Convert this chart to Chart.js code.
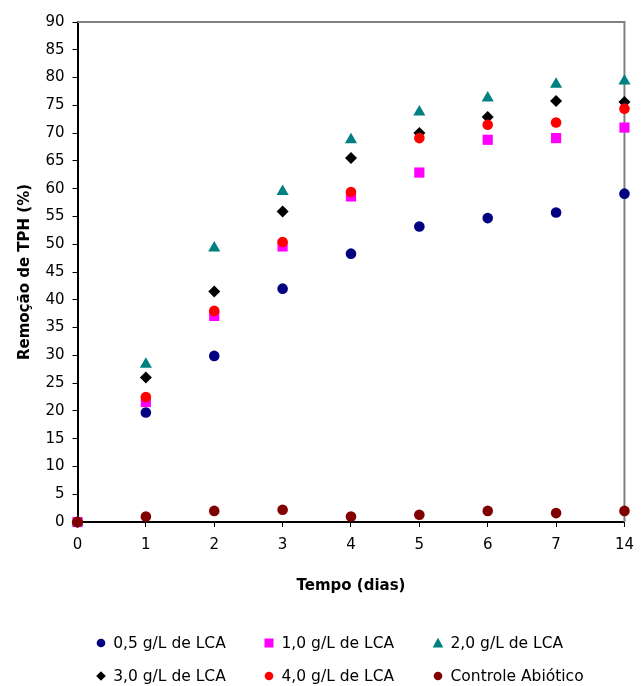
<!DOCTYPE html>
<html>
<head>
<meta charset="utf-8">
<script src="https://cdn.jsdelivr.net/npm/chart.js@4"></script>
<style>
  html, body { margin: 0; padding: 0; background: #ffffff; }
  #wrap { position: relative; width: 643px; height: 686px; }
  #legend { position: absolute; left: 0; top: 0; width: 643px; height: 686px; pointer-events: none; }
  .item { position: absolute; height: 20px; line-height: 20px; font-family: "DejaVu Sans", sans-serif; font-size: 15.5px; color: #000; white-space: nowrap; }
  .item svg { position: absolute; top: 0; }
  .item span { position: absolute; top: 0; }
</style>
</head>
<body>
<div id="wrap">
  <canvas id="c" width="643" height="686"></canvas>
  <div id="legend"></div>
</div>
<script>
// Categories (days)
const days = ['0', '1', '2', '3', '4', '5', '6', '7', '14'];

// Series values (% TPH removal)
const lca05 = [0, 19.7, 29.9, 42.0, 48.3, 53.2, 54.7, 55.7, 59.1];
const lca10 = [0, 21.6, 37.1, 49.6, 58.6, 62.9, 68.8, 69.1, 71.0];
const lca20 = [0, 28.4, 49.3, 59.5, 68.8, 73.8, 76.3, 78.8, 79.4];
const lca30 = [0, 26.0, 41.5, 55.9, 65.5, 70.0, 72.9, 75.8, 75.6];
const lca40 = [0, 22.5, 38.0, 50.4, 59.4, 69.1, 71.5, 71.9, 74.4];
const controle = [0, 1.0, 2.0, 2.2, 1.0, 1.3, 2.0, 1.6, 2.0];

const seriesNames = ['0,5 g/L de LCA', '1,0 g/L de LCA', '2,0 g/L de LCA', '3,0 g/L de LCA', '4,0 g/L de LCA', 'Controle Abiótico'];
const seriesData = [lca05, lca10, lca20, lca30, lca40, controle];
const seriesColors = ['#000080', '#FF00FF', '#008080', '#000000', '#FF0000', '#800000'];
const seriesStyles = ['circle', 'rect', 'triangle', 'rectRot', 'circle', 'circle'];
const seriesRadius = [5.3, 7.2, 7, 6, 5.3, 5.3];

const yTicksMin = 0, yTicksMax = 90, yStep = 5;

const FONT = '"DejaVu Sans", sans-serif';

const datasets = seriesNames.map((name, i) => ({
  label: name,
  data: seriesData[i],
  showLine: false,
  pointStyle: seriesStyles[i],
  pointRadius: seriesRadius[i],
  pointHoverRadius: seriesRadius[i],
  pointBackgroundColor: seriesColors[i],
  pointBorderColor: seriesColors[i],
  pointBorderWidth: 0,
  backgroundColor: seriesColors[i],
  borderColor: seriesColors[i],
  clip: false,
  order: seriesNames.length - i
}));

const frame = {
  id: 'frame',
  beforeDatasetsDraw(chart) {
    const { ctx, chartArea: a } = chart;
    ctx.save();
    ctx.strokeStyle = '#808080';
    ctx.lineWidth = 2;
    ctx.beginPath();
    ctx.moveTo(a.left, a.top);
    ctx.lineTo(a.right, a.top);
    ctx.lineTo(a.right, a.bottom);
    ctx.stroke();
    ctx.restore();
  }
};

new Chart(document.getElementById('c'), {
  type: 'line',
  data: { labels: days, datasets },
  plugins: [frame],
  options: {
    responsive: false,
    animation: false,
    layout: { padding: { left: 0, top: 22, right: 10, bottom: 88 } },
    plugins: { legend: { display: false }, tooltip: { enabled: false } },
    scales: {
      x: {
        type: 'category',
        offset: false,
        grid: { drawOnChartArea: false, drawTicks: true, tickLength: 5, tickColor: '#000', tickWidth: 1 },
        border: { display: true, color: '#000', width: 2 },
        ticks: { color: '#000', font: { family: FONT, size: 15 }, padding: 9, maxRotation: 0, autoSkip: false },
        title: { display: true, text: 'Tempo (dias)', color: '#000', font: { family: FONT, size: 15, weight: 'bold' }, padding: { top: 0, bottom: 3 } },
        afterFit(s) { s.height = 76; }
      },
      y: {
        min: yTicksMin, max: yTicksMax,
        grid: { drawOnChartArea: false, drawTicks: true, tickLength: 5, tickColor: '#000', tickWidth: 1 },
        border: { display: true, color: '#000', width: 2 },
        ticks: { stepSize: yStep, color: '#000', font: { family: FONT, size: 15 }, padding: 8 },
        title: { display: true, text: 'Remoção de TPH (%)', color: '#000', font: { family: FONT, size: 15, weight: 'bold' }, padding: { top: 16, bottom: 0 } },
        afterFit(s) { s.width = 77.5; }
      }
    }
  }
});

// HTML legend (2 rows x 3 columns)
const legendEl = document.getElementById('legend');
const colX = [100.7, 269, 438];
const rowY = [643, 676];
function markerSvg(style, color) {
  const s = 12;
  let shape = '';
  if (style === 'circle') shape = `<circle cx="6" cy="6" r="4.3" fill="${color}"/>`;
  else if (style === 'rect') shape = `<rect x="1.5" y="1.5" width="9" height="9" fill="${color}"/>`;
  else if (style === 'triangle') shape = `<polygon points="6,0.8 11.3,10.5 0.7,10.5" fill="${color}"/>`;
  else if (style === 'rectRot') shape = `<polygon points="6,1.2 10.8,6 6,10.8 1.2,6" fill="${color}"/>`;
  return `<svg width="${s}" height="${s}" viewBox="0 0 12 12" style="left:-6px;top:4px">${shape}</svg>`;
}
seriesNames.forEach((name, i) => {
  const r = Math.floor(i / 3), c = i % 3;
  const d = document.createElement('div');
  d.className = 'item';
  d.style.left = colX[c] + 'px';
  d.style.top = (rowY[r] - 10) + 'px';
  d.innerHTML = markerSvg(seriesStyles[i], seriesColors[i]) + `<span style="left:12.5px">${name}</span>`;
  legendEl.appendChild(d);
});
</script>
</body>
</html>
